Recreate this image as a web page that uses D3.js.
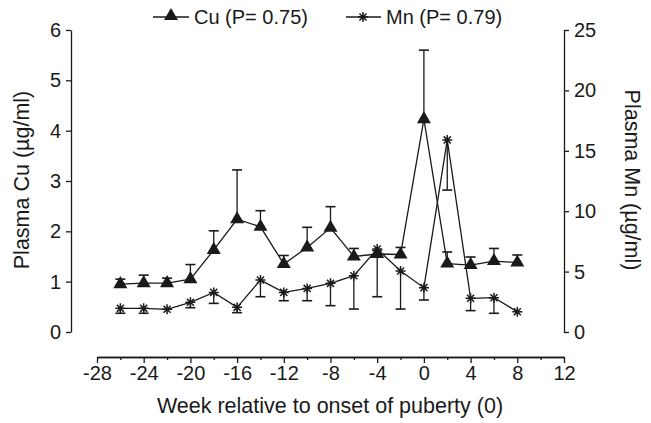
<!DOCTYPE html>
<html lang="en">
<head>
<meta charset="UTF-8"/>
<title>Plasma Cu and Mn around puberty</title>
<script src="https://d3js.org/d3.v7.min.js"></script>
<style>
	body { margin: 0; background: #fff; }
	svg text { font-family: "Liberation Sans", Arial, sans-serif; fill: #1a1a1a; }
</style>
</head>
<body>
<script>
	// data
	var weeks  = [-26, -24, -22, -20, -18, -16, -14, -12, -10, -8, -6, -4, -2, 0, 2, 4, 6, 8];
	var cuMean = [0.95, 0.97, 0.97, 1.05, 1.63, 2.24, 2.09, 1.35, 1.68, 2.07, 1.50, 1.55, 1.54, 4.23, 1.36, 1.33, 1.41, 1.38];
	var cuUpper = [1.05, 1.13, 1.07, 1.34, 2.01, 3.22, 2.41, 1.52, 2.08, 2.49, 1.66, 1.62, 1.68, 5.60, 1.59, 1.49, 1.66, 1.53];
	var mnMean = [1.96, 1.96, 1.88, 2.46, 3.28, 2.04, 4.30, 3.28, 3.61, 4.03, 4.66, 6.87, 5.05, 3.67, 15.9, 2.79, 2.84, 1.68];
	var mnLower = [1.55, 1.55, 1.88, 2.01, 2.37, 1.60, 2.92, 2.59, 2.59, 2.18, 1.90, 2.92, 1.90, 2.65, 11.75, 1.77, 1.55, 1.68];
	var xTicks = [-28, -24, -20, -16, -12, -8, -4, 0, 4, 8, 12];
	var cuTicks = [0, 1, 2, 3, 4, 5, 6];
	var mnTicks = [0, 5, 10, 15, 20, 25];

	var w = 651, h = 423;
	// plot frame (pixels)
	var padL = 71, padR = 564, padT = 30, padB = 332, xAxisY = 357;
	var ink = "#1a1a1a";
	var tickFont = 20, titleFont = 21.5;

	var svg = d3.select("body").append("svg")
		.attr("width", w)
		.attr("height", h);

	var xScale = d3.scaleLinear().domain([-28, 12]).range([97, padR]);
	var yCu = d3.scaleLinear().domain([0, 6]).range([padB, padT]);
	var yMn = d3.scaleLinear().domain([0, 25]).range([padB, padT]);

	var plain = function(d) { return String(d); };   // keep ascii hyphen for negatives

	//Axes
	var xAxis = d3.axisBottom(xScale).tickValues(xTicks).tickSize(6).tickSizeOuter(0).tickPadding(3).tickFormat(plain);
	var xMinor = d3.axisBottom(xScale).tickValues(d3.range(-26, 12, 4)).tickSize(3).tickSizeOuter(0).tickFormat("");
	var yAxisL = d3.axisLeft(yCu).tickValues(cuTicks).tickSize(5).tickSizeOuter(0).tickPadding(5).tickFormat(plain);
	var yAxisR = d3.axisRight(yMn).tickValues(mnTicks).tickSize(5).tickSizeOuter(0).tickPadding(5).tickFormat(plain);

	function styleAxis(g) {
		g.attr("font-family", null).attr("font-size", null);
		g.selectAll("path, line").attr("stroke", ink).attr("stroke-width", 1.3);
		g.selectAll("text").attr("font-size", tickFont).attr("fill", ink);
	}

	svg.append("g").attr("transform", "translate(0," + xAxisY + ")").call(xMinor).call(styleAxis);
	svg.append("g").attr("transform", "translate(0," + xAxisY + ")").call(xAxis).call(styleAxis);
	svg.append("g").attr("transform", "translate(" + padL + ",0)").call(yAxisL).call(styleAxis);
	svg.append("g").attr("transform", "translate(" + padR + ",0)").call(yAxisR).call(styleAxis);

	//Axis titles
	svg.append("text")
		.attr("text-anchor", "middle")
		.attr("x", 330).attr("y", 413)
		.attr("font-size", titleFont)
		.text("Week relative to onset of puberty (0)");

	svg.append("text")
		.attr("text-anchor", "middle")
		.attr("transform", "translate(29,180) rotate(-90)")
		.attr("font-size", titleFont)
		.text("Plasma Cu (µg/ml)");

	svg.append("text")
		.attr("text-anchor", "middle")
		.attr("transform", "translate(625,180) rotate(90)")
		.attr("font-size", titleFont)
		.text("Plasma Mn (µg/ml)");

	var cuData = weeks.map(function(wk, i) { return { x: wk, y: cuMean[i], e: cuUpper[i] }; });
	var mnData = weeks.map(function(wk, i) { return { x: wk, y: mnMean[i], e: mnLower[i] }; });

	//Lines
	var cuLine = d3.line().x(function(d) { return xScale(d.x); }).y(function(d) { return yCu(d.y); });
	var mnLine = d3.line().x(function(d) { return xScale(d.x); }).y(function(d) { return yMn(d.y); });

	svg.append("path").datum(mnData).attr("d", mnLine)
		.attr("fill", "none").attr("stroke", ink).attr("stroke-width", 1.3);
	svg.append("path").datum(cuData).attr("d", cuLine)
		.attr("fill", "none").attr("stroke", ink).attr("stroke-width", 1.3);

	//Error bars (Cu upward, Mn downward)
	function errorBars(data, yScale) {
		var g = svg.append("g").attr("stroke", ink).attr("stroke-width", 1.3);
		data.forEach(function(d) {
			if (Math.abs(d.e - d.y) < 0.01) return;
			var x = xScale(d.x);
			g.append("line").attr("x1", x).attr("x2", x)
				.attr("y1", yScale(d.y)).attr("y2", yScale(d.e));
			g.append("line").attr("x1", x - 5).attr("x2", x + 5)
				.attr("y1", yScale(d.e)).attr("y2", yScale(d.e)).attr("stroke-width", 1.6);
		});
	}
	errorBars(mnData, yMn);
	errorBars(cuData, yCu);

	//Markers
	function starPath(r) {
		var d = r * Math.SQRT1_2;
		return "M0," + (-r) + "V" + r + "M" + (-r) + ",0H" + r +
			"M" + (-d) + "," + (-d) + "L" + d + "," + d + "M" + (-d) + "," + d + "L" + d + "," + (-d);
	}

	svg.selectAll(".mn").data(mnData).enter().append("path")
		.attr("class", "mn")
		.attr("transform", function(d) { return "translate(" + xScale(d.x) + "," + yMn(d.y) + ")"; })
		.attr("d", starPath(5))
		.attr("stroke", ink).attr("stroke-width", 1.5).attr("fill", "none");

	var tri = d3.symbol().type(d3.symbolTriangle).size(85);
	svg.selectAll(".cu").data(cuData).enter().append("path")
		.attr("class", "cu")
		.attr("transform", function(d) { return "translate(" + xScale(d.x) + "," + yCu(d.y) + ")"; })
		.attr("d", tri)
		.attr("fill", ink);

	//Legend
	var lg = svg.append("g");
	lg.append("line").attr("x1", 153).attr("x2", 189).attr("y1", 17).attr("y2", 17)
		.attr("stroke", ink).attr("stroke-width", 1.3);
	lg.append("path").attr("transform", "translate(171,16)").attr("d", tri).attr("fill", ink);
	lg.append("text").attr("x", 194).attr("y", 24).attr("font-size", tickFont).text("Cu (P= 0.75)");

	lg.append("line").attr("x1", 346).attr("x2", 381).attr("y1", 17).attr("y2", 17)
		.attr("stroke", ink).attr("stroke-width", 1.3);
	lg.append("path").attr("transform", "translate(363,17)").attr("d", starPath(5))
		.attr("stroke", ink).attr("stroke-width", 1.5).attr("fill", "none");
	lg.append("text").attr("x", 386).attr("y", 24).attr("font-size", tickFont).text("Mn (P= 0.79)");
</script>
</body>
</html>
